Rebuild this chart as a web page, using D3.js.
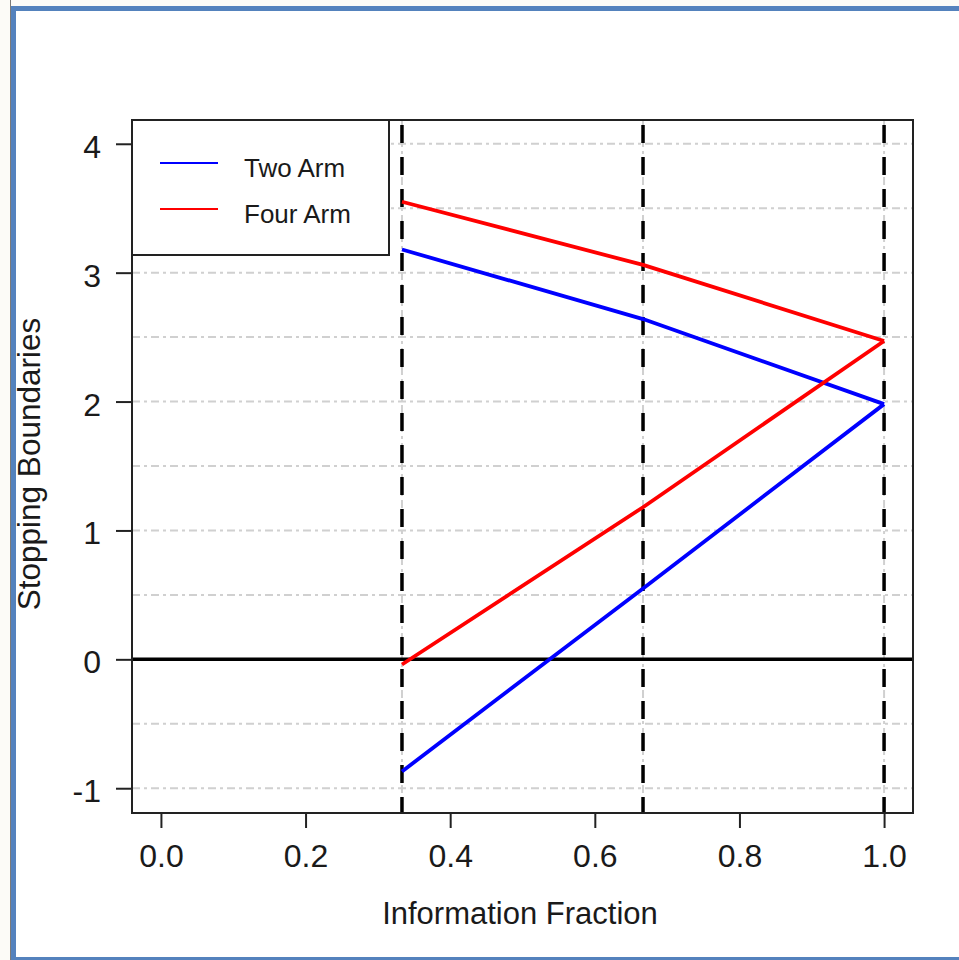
<!DOCTYPE html>
<html>
<head>
<meta charset="utf-8">
<script src="https://cdn.jsdelivr.net/npm/d3@7"></script>
<style>
  html, body { margin: 0; padding: 0; background: #ffffff; }
  svg { display: block; }
  text { font-family: "Liberation Sans", Arial, sans-serif; fill: #1a1a1a; }
</style>
</head>
<body>
<svg id="chart" width="959" height="960"></svg>
<script>
// Interim analysis looks (information fraction)
const infoFraction = [1/3, 2/3, 1];

// Efficacy (upper) and futility (lower) boundaries per design
const twoArmUpper  = [3.18, 2.64, 1.98];
const twoArmLower  = [-0.87, 0.55, 1.98];
const fourArmUpper = [3.55, 3.06, 2.47];
const fourArmLower = [-0.04, 1.18, 2.47];

const xTicks = [0, 0.2, 0.4, 0.6, 0.8, 1.0];
const yTicks = [-1, 0, 1, 2, 3, 4];
const gridY  = [-1, -0.5, 0, 0.5, 1, 1.5, 2, 2.5, 3, 3.5, 4];

const legendItems = [
  { label: "Two Arm",  color: "#0000ff" },
  { label: "Four Arm", color: "#ff0000" }
];

const svg = d3.select("#chart");

// Window frame
svg.append("rect").attr("x", 0).attr("y", 0).attr("width", 959).attr("height", 960).attr("fill", "#fcfbf7");
svg.append("rect").attr("x", 16).attr("y", 11).attr("width", 943).attr("height", 946).attr("fill", "#ffffff");
svg.append("rect").attr("x", 10).attr("y", 0).attr("width", 1).attr("height", 960).attr("fill", "#7a7a7a");
svg.append("rect").attr("x", 11).attr("y", 6).attr("width", 5).attr("height", 954).attr("fill", "#5482bd");
svg.append("rect").attr("x", 11).attr("y", 6).attr("width", 948).attr("height", 5).attr("fill", "#5482bd");
svg.append("rect").attr("x", 11).attr("y", 957).attr("width", 948).attr("height", 3).attr("fill", "#5482bd");

const plot = { left: 132, right: 913, top: 120, bottom: 813 };

const x = d3.scaleLinear().domain([-0.04, 1.04]).range([plot.left, plot.right]);
const y = d3.scaleLinear().domain([-1.2, 4.2]).range([814, 118]);

const g = svg.append("g");

// Light grey reference grid
g.selectAll("line.gridy").data(gridY).enter().append("line")
  .attr("class", "gridy")
  .attr("x1", plot.left).attr("x2", plot.right)
  .attr("y1", d => y(d)).attr("y2", d => y(d))
  .attr("stroke", "#d0d0d0").attr("stroke-width", 2)
  .attr("stroke-dasharray", "8,4,3,4");

g.selectAll("line.gridx").data(infoFraction).enter().append("line")
  .attr("class", "gridx")
  .attr("x1", d => x(d)).attr("x2", d => x(d))
  .attr("y1", plot.top).attr("y2", plot.bottom)
  .attr("stroke", "#d0d0d0").attr("stroke-width", 2)
  .attr("stroke-dasharray", "8,4,3,4");

// Zero reference line
g.append("line")
  .attr("x1", plot.left).attr("x2", plot.right)
  .attr("y1", y(0)).attr("y2", y(0))
  .attr("stroke", "#000").attr("stroke-width", 3.5);

// Analysis times
g.selectAll("line.look").data(infoFraction).enter().append("line")
  .attr("class", "look")
  .attr("x1", d => x(d)).attr("x2", d => x(d))
  .attr("y1", plot.top).attr("y2", plot.bottom)
  .attr("stroke", "#000").attr("stroke-width", 3.5)
  .attr("stroke-dasharray", "18,14").attr("stroke-dashoffset", 27);

// Boundary curves
const line = d3.line().x(d => x(d[0])).y(d => y(d[1]));
const series = [
  { lower: twoArmLower,  upper: twoArmUpper,  color: "#0000ff" },
  { lower: fourArmLower, upper: fourArmUpper, color: "#ff0000" }
];
series.forEach(s => {
  [s.upper, s.lower].forEach(vals => {
    g.append("path")
      .datum(infoFraction.map((f, i) => [f, vals[i]]))
      .attr("d", line)
      .attr("fill", "none")
      .attr("stroke", s.color)
      .attr("stroke-width", 3.8)
      .attr("stroke-linejoin", "round");
  });
});

// Axes
const xAxis = g.append("g")
  .attr("transform", `translate(0,${plot.bottom})`)
  .call(d3.axisBottom(x).tickValues(xTicks).tickFormat(d3.format(".1f")).tickSize(15));
xAxis.select(".domain").remove();
xAxis.selectAll(".tick line").attr("stroke", "#222").attr("stroke-width", 2);
xAxis.selectAll(".tick text")
  .attr("y", 54).attr("dy", null)
  .style("font-size", "32px").style("font-family", "'Liberation Sans', Arial, sans-serif")
  .attr("fill", "#1a1a1a");

const yAxis = g.append("g")
  .attr("transform", `translate(${plot.left},0)`)
  .call(d3.axisLeft(y).tickValues(yTicks).tickFormat(d => String(d)).tickSize(16));
yAxis.select(".domain").remove();
yAxis.selectAll(".tick line").attr("stroke", "#222").attr("stroke-width", 2);
yAxis.selectAll(".tick text")
  .attr("x", -31).attr("dy", null).attr("y", 13.5)
  .style("font-size", "32px").style("font-family", "'Liberation Sans', Arial, sans-serif")
  .attr("fill", "#1a1a1a");

// Plot box
g.append("rect")
  .attr("x", plot.left).attr("y", plot.top)
  .attr("width", plot.right - plot.left).attr("height", plot.bottom - plot.top)
  .attr("fill", "none").attr("stroke", "#222").attr("stroke-width", 2);

// Axis titles
svg.append("text")
  .attr("x", 520).attr("y", 924)
  .attr("text-anchor", "middle")
  .style("font-size", "31px")
  .text("Information Fraction");

svg.append("text")
  .attr("transform", "translate(40,464) rotate(-90)")
  .attr("text-anchor", "middle")
  .style("font-size", "31.5px")
  .text("Stopping Boundaries");

// Legend
const legend = svg.append("g");
legend.append("rect")
  .attr("x", plot.left).attr("y", plot.top)
  .attr("width", 257).attr("height", 135)
  .attr("fill", "#fff").attr("stroke", "#222").attr("stroke-width", 2);
const rowY = [163, 209];
legendItems.forEach((item, i) => {
  legend.append("line")
    .attr("x1", 160).attr("x2", 218)
    .attr("y1", rowY[i]).attr("y2", rowY[i])
    .attr("stroke", item.color).attr("stroke-width", 2);
  legend.append("text")
    .attr("x", 244).attr("y", rowY[i] + 14)
    .style("font-size", "26px")
    .text(item.label);
});
</script>
</body>
</html>
